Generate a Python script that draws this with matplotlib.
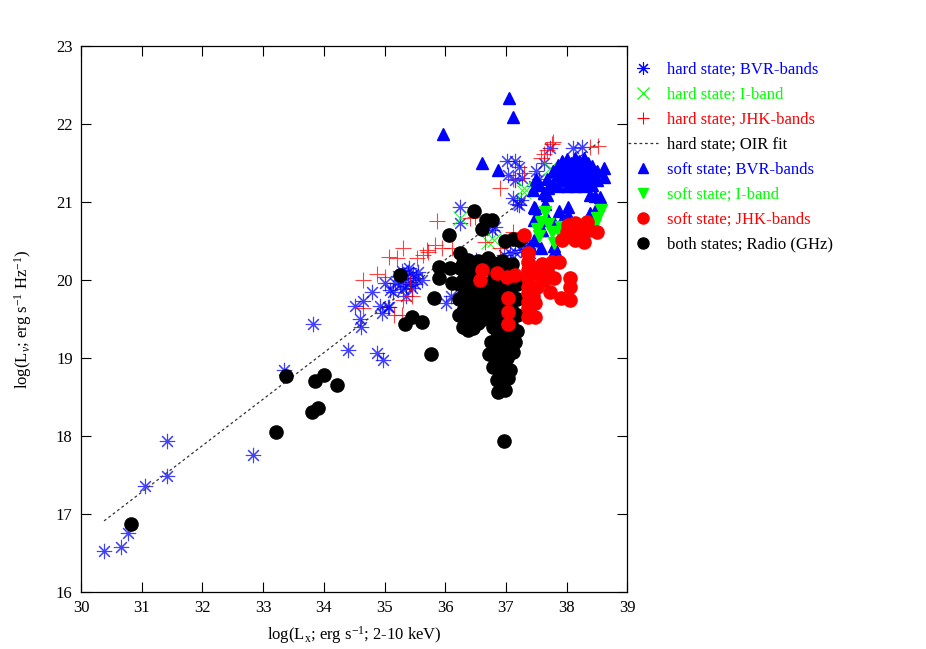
import matplotlib
matplotlib.use("Agg")
import matplotlib.pyplot as plt
import numpy as np
from matplotlib.lines import Line2D

plt.rcParams.update({
    "font.family": ["Liberation Serif", "DejaVu Serif"],
    "mathtext.fontset": "custom",
    "mathtext.rm": "Liberation Serif",
    "mathtext.it": "Liberation Serif:italic",
    "font.size": 12,
})

# ── data ──────────────────────────────────────────────────────────────────────
hard_bvr_x = [30.38, 30.66, 30.77, 31.05, 31.42, 31.42, 32.83, 33.35, 33.82, 34.40,
              34.88, 34.98, 34.52, 34.65, 34.80, 34.59, 34.62, 34.93, 34.95, 35.06,
              35.01, 35.14, 35.09, 35.18, 35.07, 35.22, 35.28, 35.33, 35.38, 35.42,
              35.47, 35.52, 35.36, 35.30, 35.45, 35.25, 35.40, 35.50, 35.55, 35.35,
              35.62, 36.10, 36.02, 36.25, 36.25, 36.35, 36.50, 36.77, 36.82, 36.96,
              37.07, 37.15, 37.24, 37.30, 37.35, 37.45, 37.40, 37.18, 37.21, 37.24,
              37.02, 37.15, 37.21, 37.04, 37.15, 37.26, 37.12, 37.46, 37.55, 37.62,
              37.50, 37.73, 38.11, 38.25]
hard_bvr_y = [16.53, 16.58, 16.76, 17.36, 17.94, 17.49, 17.76, 18.85, 19.43, 19.10,
              19.06, 18.97, 19.67, 19.73, 19.85, 19.50, 19.40, 19.67, 19.58, 19.66,
              19.96, 19.85, 19.87, 19.96, 19.65, 20.05, 20.12, 20.02, 20.10, 19.98,
              20.08, 20.03, 19.92, 19.88, 19.90, 19.95, 20.15, 19.95, 20.10, 19.80,
              20.00, 19.80, 19.70, 20.94, 20.73, 20.22, 20.26, 20.64, 20.68, 20.32,
              20.35, 20.36, 20.38, 20.45, 20.40, 20.48, 20.34, 20.98, 20.96, 21.02,
              21.52, 21.52, 21.45, 21.35, 21.28, 21.31, 21.05, 21.20, 21.30, 21.50,
              21.40, 21.69, 21.69, 21.70]

hard_i_x = [36.25, 36.80, 36.71, 37.29, 37.29, 37.73]
hard_i_y = [20.79, 20.51, 20.49, 21.13, 21.18, 21.44]

hard_jhk_x = [34.65, 34.87, 35.01, 35.15, 35.29, 35.31, 34.65, 35.07, 35.20, 35.31,
              35.53, 35.64, 35.72, 35.83, 35.42, 35.45, 35.86, 35.70, 35.95, 36.11,
              36.30, 36.41, 36.49, 36.66, 36.91, 37.12, 36.91, 37.15, 37.12, 37.29,
              37.57, 37.62, 37.68, 37.76, 37.78, 38.39, 38.52]
hard_jhk_y = [20.00, 20.08, 20.04, 19.55, 19.55, 19.74, 19.64, 20.30, 20.28, 20.41,
              20.28, 20.32, 20.36, 20.45, 19.96, 19.79, 20.76, 20.38, 20.41, 20.41,
              20.30, 20.79, 20.81, 20.49, 20.41, 20.62, 21.18, 21.30, 21.30, 21.37,
              21.56, 21.62, 21.67, 21.75, 21.77, 21.71, 21.72]

fit_slope = 0.596
fit_intercept = -1.196
fit_xrange = [30.38, 38.58]

soft_bvr_x = [35.97, 37.05, 37.11, 36.61, 36.87,
              37.78, 37.78, 37.85, 37.85, 37.85, 37.92, 37.92, 37.92, 38.00, 38.00,
              38.00, 38.00, 38.07, 38.07, 38.07, 38.14, 38.14, 38.14, 38.14, 38.21,
              38.21, 38.21, 38.28, 38.28, 38.28, 38.28, 38.35, 38.35, 38.35, 38.42,
              38.42, 38.42, 38.50, 38.50, 38.61, 38.62,
              37.45, 37.55, 37.62, 37.68, 37.70, 37.50, 37.68,
              38.39, 38.47, 38.55, 38.52, 38.03, 38.03, 37.87, 37.48, 37.65, 37.62,
              37.46, 37.70, 37.79, 37.90, 37.59, 37.46, 37.40, 37.57, 37.79, 37.81,
              38.39, 38.31, 37.46, 37.51, 37.57]
soft_bvr_y = [21.87, 22.34, 22.09, 21.50, 21.41,
              21.25, 21.40, 21.20, 21.35, 21.47, 21.28, 21.42, 21.52, 21.20, 21.33,
              21.46, 21.55, 21.25, 21.38, 21.50, 21.20, 21.32, 21.45, 21.57, 21.27,
              21.40, 21.52, 21.20, 21.33, 21.46, 21.56, 21.25, 21.38, 21.50, 21.22,
              21.34, 21.46, 21.28, 21.40, 21.43, 21.32,
              21.15, 21.22, 21.12, 21.30, 21.18, 21.30, 21.09,
              21.09, 21.08, 21.07, 20.96, 20.94, 20.83, 20.88, 20.92, 20.98, 21.11,
              20.77, 20.77, 20.73, 20.75, 20.64, 20.51, 20.43, 20.41, 20.43, 20.38,
              20.86, 20.75, 20.94, 20.81, 20.64]

soft_i_x = [37.65, 37.57, 37.70, 37.51, 37.54, 37.76, 37.79, 37.87, 37.90, 38.57, 38.50, 38.47]
soft_i_y = [20.87, 20.74, 20.72, 20.66, 20.56, 20.62, 20.47, 20.62, 20.68, 20.90, 20.80, 20.72]

soft_jhk_x = [38.03, 38.14, 38.28, 38.33, 38.09, 38.25, 38.28, 37.92, 38.50, 38.36,
              38.14, 38.20, 38.00,
              37.37, 37.37, 37.37, 37.37, 37.37, 37.37, 37.37, 37.37, 37.37, 37.48,
              37.48, 37.51, 37.51, 37.59, 37.68, 37.76, 37.87, 37.79, 37.73, 37.90,
              38.06, 38.06, 38.06, 37.62, 37.29, 37.44, 37.44,
              36.60, 36.58, 36.85, 37.02, 37.15, 37.04, 37.04, 37.04]
soft_jhk_y = [20.71, 20.73, 20.71, 20.75, 20.60, 20.58, 20.49, 20.51, 20.62, 20.64,
              20.51, 20.65, 20.62,
              20.34, 20.23, 20.13, 20.02, 19.91, 19.83, 19.72, 19.64, 19.53, 19.53,
              19.70, 19.91, 20.09, 20.21, 20.13, 20.23, 20.23, 20.02, 19.85, 19.77,
              20.02, 19.91, 19.74, 20.00, 20.58, 19.80, 20.15,
              20.13, 20.00, 20.09, 20.04, 20.06, 19.77, 19.59, 19.44]

radio_x = [30.83, 33.21, 33.38, 33.81, 33.91, 33.85, 34.01, 34.22, 35.25, 35.33,
           35.45, 35.62, 35.76, 35.81, 35.89, 35.89, 36.06, 36.25, 36.47, 36.60,
           36.67, 36.77, 36.99, 37.12, 37.21, 36.08, 36.11,
           36.22, 36.22, 36.22, 36.25,
           36.30, 36.30, 36.30, 36.30, 36.30,
           36.38, 36.38, 36.38, 36.38, 36.38, 36.38,
           36.46, 36.46, 36.46, 36.46, 36.46,
           36.54, 36.54, 36.54, 36.54, 36.54,
           36.62, 36.62, 36.62, 36.62,
           36.70, 36.70, 36.70, 36.70, 36.70,
           36.78, 36.78, 36.78, 36.78, 36.78,
           36.86, 36.86, 36.86, 36.86, 36.86,
           36.94, 36.94, 36.94, 36.94, 36.94,
           37.02, 37.02, 37.02, 37.02,
           37.10, 37.10, 37.10, 37.10, 37.10,
           37.18, 37.18, 37.18, 37.18,
           36.75, 36.85, 36.95, 37.05, 37.15,
           36.72, 36.82, 36.92, 37.02, 37.12,
           36.78, 36.88, 36.98, 37.06,
           36.85, 36.95, 37.03,
           36.87, 36.99, 36.93,
           36.97]
radio_y = [16.87, 18.05, 18.77, 18.31, 18.36, 18.71, 18.78, 18.65, 20.07, 19.43,
           19.52, 19.46, 19.05, 19.77, 20.17, 20.02, 20.58, 20.34, 20.89, 20.65,
           20.77, 20.77, 20.50, 20.52, 20.51, 20.15, 19.96,
           19.55, 19.75, 19.95, 20.15,
           19.40, 19.60, 19.80, 20.00, 20.22,
           19.36, 19.50, 19.70, 19.90, 20.10, 20.26,
           19.38, 19.58, 19.78, 19.98, 20.18,
           19.45, 19.65, 19.85, 20.05, 20.25,
           19.50, 19.70, 19.90, 20.20,
           19.55, 19.75, 19.95, 20.15, 20.28,
           19.40, 19.60, 19.80, 20.00, 20.22,
           19.35, 19.55, 19.75, 19.95, 20.18,
           19.45, 19.65, 19.85, 20.05, 20.25,
           19.35, 19.55, 19.95, 20.15,
           19.40, 19.60, 19.80, 20.00, 20.20,
           19.35, 19.55, 19.75, 19.95,
           19.20, 19.15, 19.20, 19.15, 19.20,
           19.05, 19.00, 19.05, 19.00, 19.08,
           18.88, 18.85, 18.90, 18.85,
           18.72, 18.70, 18.74,
           18.56, 18.59, 18.63,
           17.94]

labels = ["hard state; BVR-bands", "hard state; I-band", "hard state; JHK-bands",
          "hard state; OIR fit", "soft state; BVR-bands", "soft state; I-band",
          "soft state; JHK-bands", "both states; Radio (GHz)"]

BLUE, GREEN, RED, BLACK = "#0000ff", "#00ff00", "#ff0000", "#000000"
ASTER = (8, 2, 0)

fig = plt.figure(figsize=(9.26, 6.49), dpi=100)
ax = fig.add_axes([0.0875, 0.088, 0.59, 0.841])

ax.plot(hard_bvr_x, hard_bvr_y, ls="none", marker=ASTER, ms=11, mew=0.8,
        mec=BLUE, alpha=0.75, zorder=2)
ax.plot(hard_i_x, hard_i_y, ls="none", marker="x", ms=10, mew=0.8,
        mec=GREEN, alpha=0.85, zorder=2)
ax.plot(hard_jhk_x, hard_jhk_y, ls="none", marker="+", ms=12, mew=0.8,
        mec=RED, alpha=0.75, zorder=2)

fx = np.array(fit_xrange)
ax.plot(fx, fit_intercept + fit_slope * fx, color="#333333", lw=0.9,
        ls=(0, (2.2, 2.2)), zorder=2.5)

ax.plot(radio_x, radio_y, ls="none", marker="o", ms=9.5, color=BLACK, zorder=3)
ax.plot(soft_bvr_x, soft_bvr_y, ls="none", marker="^", ms=8.5, color=BLUE, zorder=4)
ax.plot(soft_i_x, soft_i_y, ls="none", marker="v", ms=8.5, color=GREEN, zorder=5)
ax.plot(soft_jhk_x, soft_jhk_y, ls="none", marker="o", ms=9.5, color=RED, zorder=6)

ax.set_xlim(30, 39)
ax.set_ylim(16, 23)
ax.set_xticks(range(30, 40))
ax.set_yticks(range(16, 24))
ax.tick_params(direction="in", top=True, right=True, length=7, width=0.8,
               labelsize=12, pad=6)
for s in ax.spines.values():
    s.set_linewidth(0.9)

ax.set_xlabel(r"log(L$_\mathrm{x}$; erg s$^{-1}$; 2-10 keV)", fontsize=12, labelpad=6)
ax.set_ylabel(r"log(L$_\nu$; erg s$^{-1}$ Hz$^{-1}$)", fontsize=12, labelpad=16)

handles = [
    Line2D([], [], ls="none", marker=ASTER, ms=9, mew=0.8, mec=BLUE),
    Line2D([], [], ls="none", marker="x", ms=8, mew=0.8, mec=GREEN),
    Line2D([], [], ls="none", marker="+", ms=9, mew=0.8, mec=RED),
    Line2D([], [], color="#333333", lw=0.9, ls=(0, (2.2, 2.2))),
    Line2D([], [], ls="none", marker="^", ms=7, color=BLUE),
    Line2D([], [], ls="none", marker="v", ms=7, color=GREEN),
    Line2D([], [], ls="none", marker="o", ms=8, color=RED),
    Line2D([], [], ls="none", marker="o", ms=8, color=BLACK),
]
text_colors = [BLUE, GREEN, RED, BLACK, BLUE, GREEN, RED, BLACK]
leg = fig.legend(handles, labels, loc="upper left", bbox_to_anchor=(0.671, 0.9157),
                 frameon=False, fontsize=12, handlelength=1.8, handletextpad=0.55,
                 labelspacing=0.54, borderaxespad=0)
for t, c in zip(leg.get_texts(), text_colors):
    t.set_color(c)

fig.savefig("out.png", dpi=100)
